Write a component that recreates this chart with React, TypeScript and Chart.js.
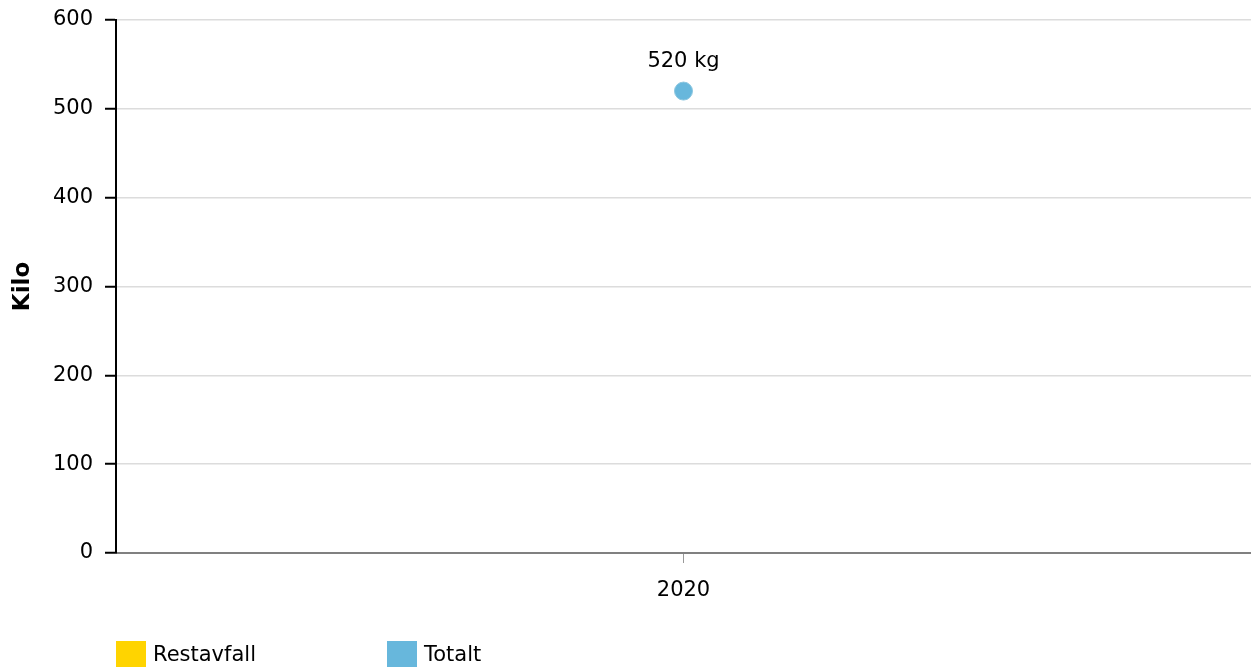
import React, { useEffect, useRef } from "react";
import { Chart, registerables } from "chart.js";

Chart.register(...registerables);

const categories: string[] = ["2020"];
const restavfallValues: (number | null)[] = [null];
const totaltValues: number[] = [520];
const seriesNames: string[] = ["Restavfall", "Totalt"];
const seriesColors: string[] = ["#ffd400", "#67b7dc"];
const yAxisTitle = "Kilo";
const valueUnit = "kg";
const yMin = 0;
const yMax = 600;
const yStep = 100;

const FONT = "'DejaVu Sans', Verdana, sans-serif";
const FS = 21;

const labelPlugin = {
  id: "pointLabels",
  afterDatasetsDraw(chart: any) {
    const ctx = chart.ctx;
    const meta = chart.getDatasetMeta(1);
    ctx.save();
    ctx.font = `${FS}px ${FONT}`;
    ctx.fillStyle = "#000";
    ctx.textAlign = "center";
    ctx.textBaseline = "middle";
    meta.data.forEach((pt: any, i: number) => {
      const v = totaltValues[i];
      if (v == null) return;
      ctx.fillText(`${v} ${valueUnit}`, pt.x, pt.y - 30);
    });
    ctx.restore();
  },
};

export default function App() {
  const ref = useRef<HTMLCanvasElement | null>(null);

  useEffect(() => {
    if (!ref.current) return;
    const chart = new Chart(ref.current, {
      type: "bar",
      data: {
        labels: categories,
        datasets: [
          {
            type: "bar",
            label: seriesNames[0],
            data: restavfallValues,
            backgroundColor: seriesColors[0],
          },
          {
            type: "line",
            label: seriesNames[1],
            data: totaltValues,
            showLine: false,
            pointRadius: 9,
            pointHoverRadius: 9,
            pointBackgroundColor: seriesColors[1],
            pointBorderColor: "#8cc6df",
            pointBorderWidth: 1,
            borderColor: seriesColors[1],
            backgroundColor: seriesColors[1],
            clip: false,
          },
        ] as any,
      },
      options: {
        responsive: false,
        animation: false,
        devicePixelRatio: 1,
        layout: { autoPadding: false, padding: { left: 0, right: 0, top: 20, bottom: 64 } },
        plugins: {
          legend: { display: false },
          tooltip: { enabled: false },
        },
        scales: {
          x: {
            offset: true,
            grid: {
              display: true,
              drawOnChartArea: false,
              drawTicks: true,
              tickLength: 10,
              tickColor: "#999",
              tickWidth: 1,
              offset: false,
            },
            border: { display: true, color: "#808080", width: 2 },
            ticks: {
              color: "#000",
              font: { family: FONT, size: FS },
              padding: 15,
              maxRotation: 0,
            },
            afterFit(scale: any) {
              scale.height = 50;
              scale.paddingLeft = 0;
              scale.paddingRight = 0;
            },
          },
          y: {
            min: yMin,
            max: yMax,
            ticks: {
              stepSize: yStep,
              color: "#000",
              font: { family: FONT, size: FS },
              padding: 12,
            },
            grid: {
              color: "#dcdcdc",
              lineWidth: 1.5,
              tickColor: "#000",
              tickWidth: 2,
              tickLength: 11,
            },
            border: { display: true, color: "#000", width: 2 },
            title: {
              display: true,
              text: yAxisTitle,
              color: "#000",
              font: { family: FONT, size: 23, weight: "bold" },
              padding: { top: 9, bottom: 0 },
            },
            afterFit(scale: any) {
              scale.width = 116;
              scale.paddingTop = 0;
              scale.paddingBottom = 0;
            },
          },
        },
      } as any,
      plugins: [labelPlugin],
    });
    return () => chart.destroy();
  }, []);

  const legendText: React.CSSProperties = {
    position: "absolute",
    top: 644,
    fontFamily: FONT,
    fontSize: FS,
    lineHeight: "21px",
    color: "#000",
    whiteSpace: "nowrap",
  };
  const box = (left: number, color: string): React.CSSProperties => ({
    position: "absolute",
    left,
    top: 641,
    width: 30,
    height: 30,
    background: color,
  });

  return (
    <div
      style={{
        position: "fixed",
        left: 0,
        top: 0,
        width: 1251,
        height: 667,
        overflow: "hidden",
        background: "#fff",
      }}
    >
      <canvas ref={ref} width={1251} height={667} style={{ display: "block" }} />
      <div style={box(116, seriesColors[0])} />
      <div style={{ ...legendText, left: 153 }}>{seriesNames[0]}</div>
      <div style={box(387, seriesColors[1])} />
      <div style={{ ...legendText, left: 424 }}>{seriesNames[1]}</div>
    </div>
  );
}
